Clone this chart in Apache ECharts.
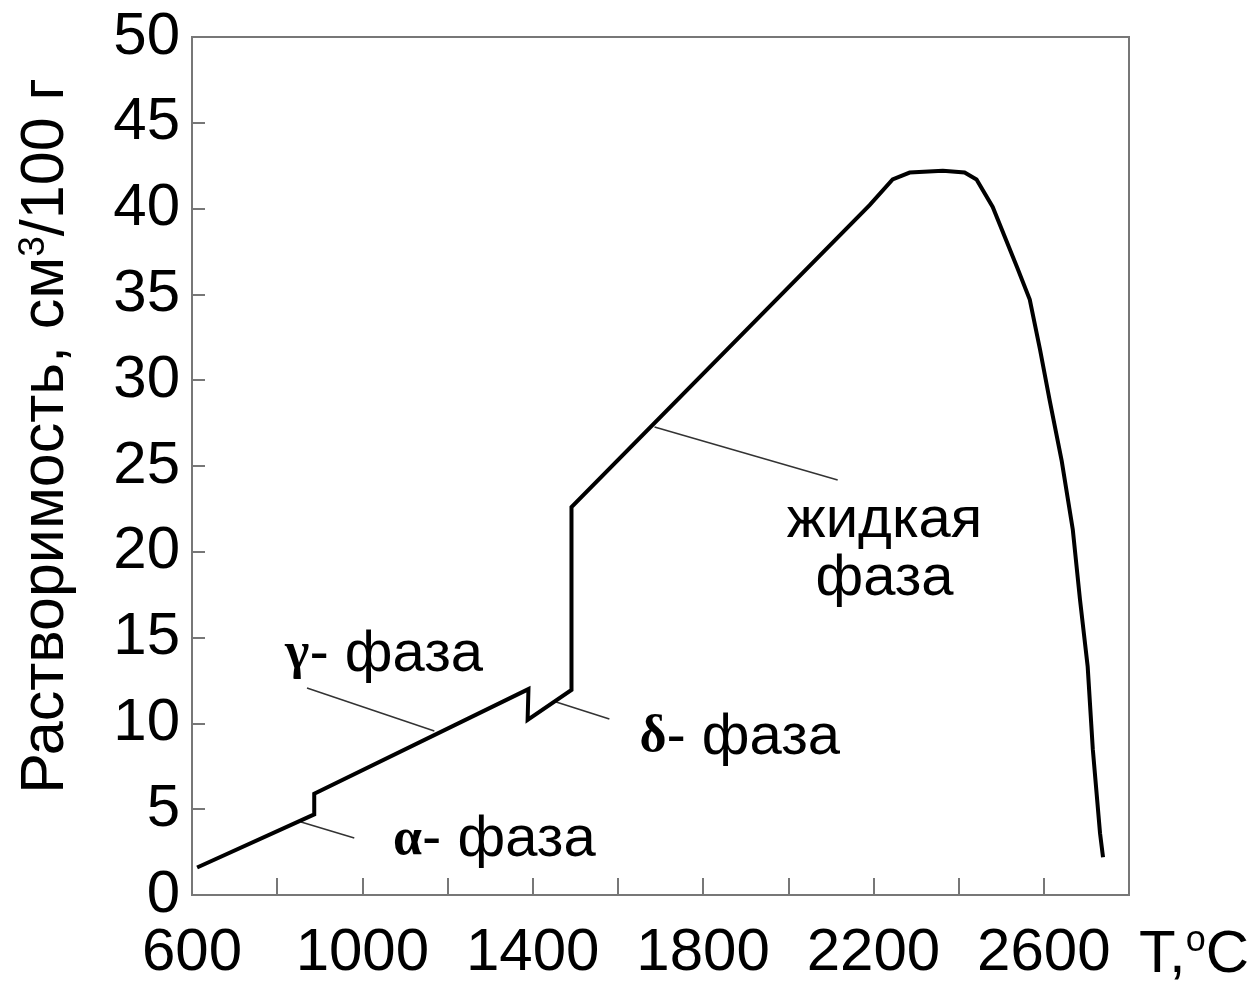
<!DOCTYPE html>
<html>
<head>
<meta charset="utf-8">
<script src="https://cdn.jsdelivr.net/npm/echarts@6/dist/echarts.min.js"></script>
<style>
  html, body { margin: 0; padding: 0; background: #fff; }
  #chart { width: 1255px; height: 985px; }
</style>
</head>
<body>
<div id="chart"></div>
<script>
// solubility curve (temperature, cm3/100 g)
const tempC = [612, 887, 887, 1390, 1388, 1491, 1491, 2191, 2245, 2285, 2363, 2414, 2442, 2480, 2537, 2567, 2591, 2614, 2642, 2668, 2685, 2703, 2715, 2732, 2739];
const solubility = [1.6, 4.7, 5.9, 12.0, 10.2, 11.95, 22.6, 40.2, 41.7, 42.1, 42.2, 42.1, 41.7, 40.1, 36.6, 34.7, 31.8, 28.8, 25.3, 21.3, 17.2, 13.3, 8.5, 3.6, 2.2];

// leader lines from the labels to the curve
const alphaLeader = [[856, 4.25], [981, 3.32]];
const gammaLeader = [[870, 12.06], [1169, 9.56]];
const deltaLeader = [[1455, 11.25], [1580, 10.26]];
const liquidLeader = [[1686, 27.27], [2116, 24.18]];

// phase labels
const phaseNames = ['{g|α}- фаза', '{g|γ}- фаза', '{g|δ}- фаза', 'жидкая\nфаза'];
const phaseAt = [[1310, 3.2], [1051, 14.0], [1886, 9.15], [2226, 20.1]];

const xTicks = [600, 1000, 1400, 1800, 2200, 2600];

const FONT = "'Liberation Sans', Arial, sans-serif";

let myChart = echarts.init(document.getElementById('chart'));

let curve = tempC.map((t, i) => [t, solubility[i]]);

function leader(data) {
    return {
        type: 'line',
        data: data,
        symbol: 'none',
        silent: true,
        lineStyle: { color: '#333', width: 1.5 },
        z: 3
    };
}

let options = {
    animation: false,
    backgroundColor: '#fff',
    grid: {
        left: 192,
        right: 126,
        top: 37,
        bottom: 90,
        outerBoundsMode: 'none',
        containLabel: false,
        show: true,
        borderColor: '#777',
        borderWidth: 2
    },
    xAxis: {
        type: 'value',
        min: 600,
        max: 2800,
        interval: 200,
        name: 'T,{sup|o}C',
        nameLocation: 'end',
        nameGap: 10,
        nameTextStyle: {
            fontFamily: FONT,
            fontSize: 60,
            color: '#000',
            verticalAlign: 'top',
            padding: [28, 0, 0, 0],
            rich: {
                sup: { fontFamily: FONT, fontSize: 36, color: '#000', verticalAlign: 'top', padding: [0, 0, 28, 0] }
            }
        },
        axisLine: { lineStyle: { color: '#777', width: 2 } },
        axisTick: { inside: true, length: 17, lineStyle: { color: '#777', width: 2 } },
        splitLine: { show: false },
        axisLabel: {
            margin: 28,
            fontFamily: FONT,
            fontSize: 60,
            color: '#000',
            formatter: function (v) {
                return xTicks.indexOf(v) >= 0 ? String(v) : '';
            }
        }
    },
    yAxis: {
        type: 'value',
        min: 0,
        max: 50,
        interval: 5,
        name: 'Растворимость, см{sup|3}/100 г',
        nameLocation: 'middle',
        nameGap: 114,
        nameTextStyle: {
            fontFamily: FONT,
            fontSize: 61,
            color: '#000',
            padding: [0, 0, 0, 60],
            rich: {
                sup: { fontFamily: FONT, fontSize: 37, color: '#000', verticalAlign: 'top', padding: [0, 0, 26, 0] }
            }
        },
        axisLine: { lineStyle: { color: '#777', width: 2 } },
        axisTick: { inside: true, length: 13, lineStyle: { color: '#777', width: 2 } },
        splitLine: { show: false },
        axisLabel: {
            margin: 12,
            fontFamily: FONT,
            fontSize: 60,
            color: '#000'
        }
    },
    series: [
        {
            type: 'line',
            data: curve,
            symbol: 'none',
            lineStyle: { color: '#000', width: 4, join: 'miter' },
            z: 4
        },
        leader(alphaLeader),
        leader(gammaLeader),
        leader(deltaLeader),
        leader(liquidLeader),
        {
            type: 'scatter',
            data: phaseAt.map((p, i) => ({ value: p, name: phaseNames[i] })),
            symbolSize: 0,
            silent: true,
            itemStyle: { opacity: 1 },
            label: {
                show: true,
                position: 'inside',
                formatter: '{b}',
                fontFamily: FONT,
                fontSize: 58,
                lineHeight: 58,
                color: '#000',
                opacity: 1,
                align: 'center',
                rich: {
                    g: { fontFamily: "'Liberation Serif', 'Times New Roman', serif", fontWeight: 'bold', fontSize: 52, color: '#000' }
                }
            }
        }
    ]
};

myChart.setOption(options);
</script>
</body>
</html>
